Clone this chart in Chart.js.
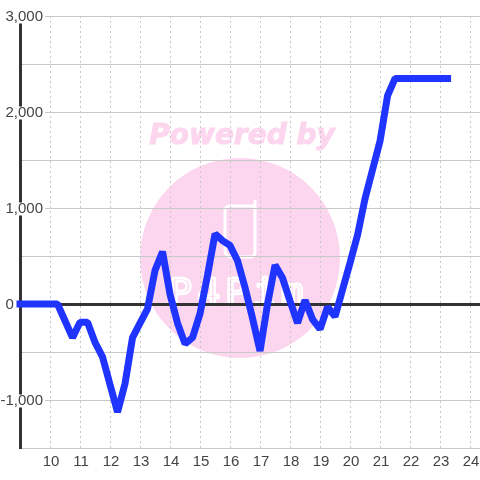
<!DOCTYPE html>
<html>
<head>
<meta charset="utf-8">
<style>html,body{margin:0;padding:0;background:#fff}canvas{display:block}</style>
<script src="https://cdn.jsdelivr.net/npm/chart.js@4"></script>
</head>
<body>
<canvas id="c" width="480" height="480"></canvas>
<script>
const hours = [9,9.25,9.5,9.75,10,10.25,10.5,10.75,11,11.25,11.5,11.75,12,12.25,12.5,12.75,13,13.25,13.5,13.75,14,14.25,14.5,14.75,15,15.25,15.5,15.75,16,16.25,16.5,16.75,17,17.25,17.5,17.75,18,18.25,18.5,18.75,19,19.25,19.5,19.75,20,20.25,20.5,20.75,21,21.25,21.5,21.75,22,22.25,22.5,22.75,23,23.25];
const values = [0,0,0,0,0,0,-175,-350,-190,-190,-400,-550,-840,-1125,-830,-350,-200,-50,350,545,100,-200,-415,-350,-100,300,730,660,610,450,170,-150,-490,0,405,270,30,-198,40,-160,-262,-30,-130,150,430,720,1100,1400,1700,2170,2350,2350,2350,2350,2350,2350,2350,2350];
const yMin = -1500, yMax = 3000, yStep = 500, yLabelStep = 1000;
const xMin = 9, xMax = 24.33;
const watermarkTop = "Powered by";
const watermarkBrand = "P4Pim";
const pink = "#fcd6ee";

const watermark = {
  id: "watermark",
  beforeDraw(chart) {
    const g = chart.ctx;
    g.save();
    g.fillStyle = "#fff";
    g.fillRect(0, 0, chart.width, chart.height);
    g.fillStyle = pink;
    g.beginPath();
    g.arc(240, 258, 100, 0, Math.PI * 2);
    g.fill();
    g.font = "italic bold 28px 'DejaVu Sans'";
    g.textAlign = "center";
    g.textBaseline = "alphabetic";
    g.strokeStyle = pink;
    g.lineWidth = 1;
    g.fillText(watermarkTop, 242, 144);
    g.strokeText(watermarkTop, 242, 144);
    g.strokeStyle = "#fff";
    g.lineWidth = 3;
    g.lineJoin = "round";
    g.lineCap = "round";
    g.beginPath();
    g.moveTo(254, 206);
    g.lineTo(230, 206);
    g.quadraticCurveTo(225, 206, 225, 211);
    g.lineTo(225, 250);
    g.quadraticCurveTo(225, 257, 232, 257);
    g.lineTo(250, 257);
    g.quadraticCurveTo(255, 257, 255, 252);
    g.lineTo(255, 201);
    g.stroke();
    g.font = "38px 'DejaVu Sans Mono'";
    g.letterSpacing = "5px";
    g.lineWidth = 2.5;
    g.textAlign = "center";
    g.strokeText(watermarkBrand, 239, 305);
    g.restore();
  }
};

function shiftLabels(scale, dx, dy) {
  const original = scale._computeLabelItems;
  scale._computeLabelItems = function (area) {
    const items = original.call(this, area);
    items.forEach(item => {
      const t = item.options.translation;
      item.options.translation = [t[0] + dx, t[1] + dy];
    });
    return items;
  };
}

new Chart(document.getElementById("c"), {
  type: "line",
  plugins: [watermark],
  data: {
    labels: hours,
    datasets: [{
      data: values.map((v, i) => ({ x: hours[i], y: v })),
      borderColor: "#1f35ff",
      borderWidth: 7,
      borderCapStyle: "square",
      borderJoinStyle: "bevel",
      tension: 0,
      pointRadius: 0,
      clip: false,
      fill: false
    }]
  },
  options: {
    responsive: false,
    animation: false,
    layout: { padding: { top: 16, left: 0, right: 0, bottom: 0 } },
    plugins: { legend: { display: false }, tooltip: { enabled: false }, title: { display: false } },
    scales: {
      x: {
        type: "linear",
        min: xMin,
        max: xMax,
        afterFit(s) {
          s.height = 32; s.paddingRight = 0; s.paddingLeft = 0;
          if (!s._shifted) { s._shifted = true; shiftLabels(s, 1, 1); }
        },
        grid: { color: "#c8c8c8", lineWidth: 1, drawTicks: false },
        border: { color: "#c8c8c8", width: 1, dash: [2, 3] },
        ticks: {
          stepSize: 1,
          includeBounds: false,
          autoSkip: false,
          maxRotation: 0,
          padding: 4,
          color: "#444",
          font: { family: "'Liberation Sans'", size: 15 },
          callback: v => (v === xMin ? "" : String(v))
        }
      },
      y: {
        min: yMin,
        max: yMax,
        afterFit(s) {
          s.width = 20;
          s._computeLabelArea = () => undefined;
          if (!s._shifted) { s._shifted = true; shiftLabels(s, 0, 1); }
        },
        grid: {
          drawTicks: false,
          color: c => (c.tick && c.tick.value === 0 ? "#333" : "#c8c8c8"),
          lineWidth: c => (c.tick && c.tick.value === 0 ? 3 : 1)
        },
        border: { color: "#333", width: 3 },
        ticks: {
          stepSize: yStep,
          padding: -23,
          color: "#444",
          autoSkip: false,
          font: { family: "'Liberation Sans'", size: 15, lineHeight: 0.87 },
          showLabelBackdrop: c => c.tick.value % yLabelStep === 0 && c.tick.value !== 0,
          backdropColor: "#fff",
          backdropPadding: { x: 2, y: 0 },
          callback: v => {
            if (v % yLabelStep !== 0) return "";
            if (v === 0) return "0\u00a0\u00a0\u00a0\u00a0\u00a0\u00a0\u00a0";
            return v.toLocaleString("en-US");
          }
        }
      }
    }
  }
});
</script>
</body>
</html>
